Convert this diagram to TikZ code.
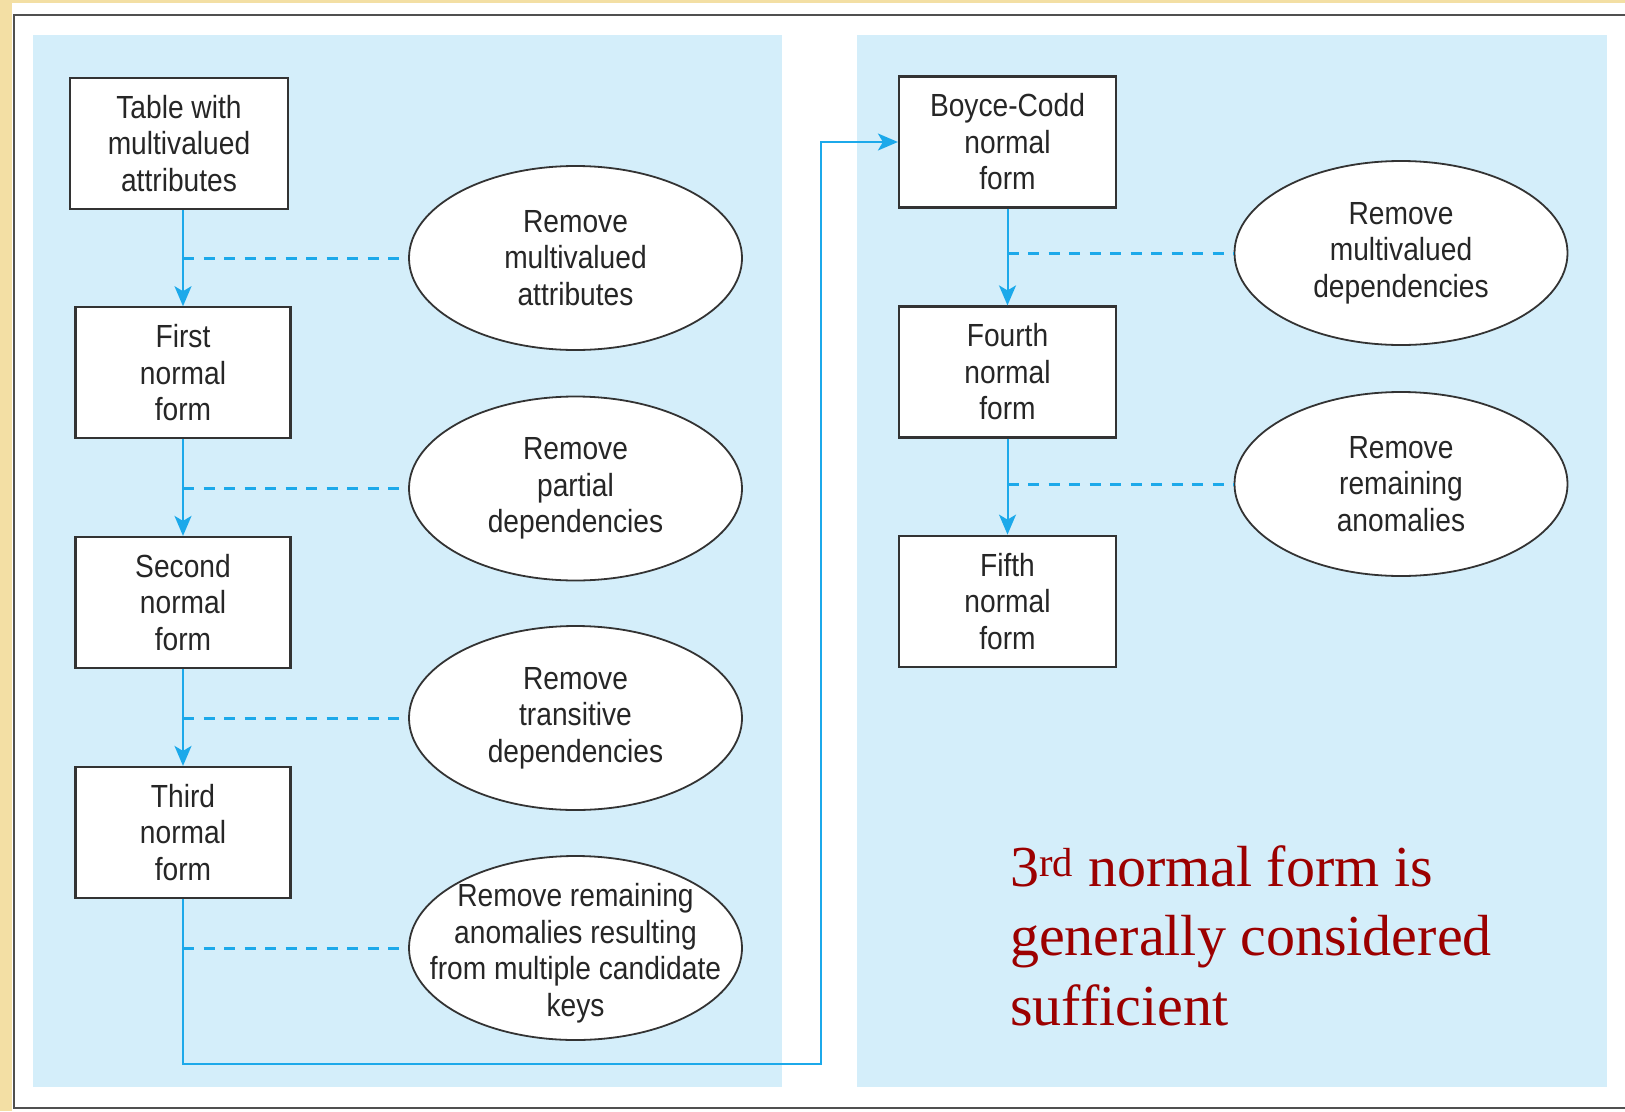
\documentclass[tikz,border=0pt]{standalone}
\usepackage{fontspec}
\setmainfont{Liberation Serif}
\newfontfamily\labelfont[FakeStretch=0.88]{Liberation Sans}
\usetikzlibrary{arrows.meta,shapes.geometric}
\definecolor{panelblue}{HTML}{D4EEFA}
\definecolor{flowblue}{HTML}{1CA9EA}
\definecolor{edgegray}{HTML}{333333}
\definecolor{framegray}{HTML}{505050}
\definecolor{slideyellow}{HTML}{F3DFA4}
\definecolor{notered}{HTML}{9C0000}
\definecolor{inktext}{HTML}{262626}

\begin{document}
\begin{tikzpicture}[x=1pt,y=-1pt,
  formbox/.style={draw=edgegray, line width=2.2pt, fill=white,
    minimum width=215pt, minimum height=131pt, inner sep=0pt,
    align=center, text=inktext, font=\labelfont\fontsize{32}{36.5}\selectfont},
  stepoval/.style={ellipse, draw=edgegray, line width=1.8pt, fill=white,
    minimum width=333pt, minimum height=184pt, inner sep=0pt},
  ovaltext/.style={inner sep=0pt, align=center, text=inktext,
    font=\labelfont\fontsize{32}{36.5}\selectfont},
  flow/.style={draw=flowblue, line width=2pt,
    -{Stealth[length=20pt,width=17pt,inset=5pt]}},
  link/.style={draw=flowblue, line width=3pt, dash pattern=on 11pt off 9.5pt},
]
\useasboundingbox (0,0) rectangle (1625,1111);

% slide background and frame
\fill[slideyellow] (0,0) rectangle (1625,1111);
\fill[white] (12,3) rectangle (1625,1111);
\draw[framegray, line width=2.5pt] (1625,15) -- (14,15) -- (14,1108) -- (1625,1108);

% two shaded panels
\fill[panelblue] (33,35) rectangle (782,1087);
\fill[panelblue] (857,35) rectangle (1607,1087);

% left column: forms
\node[formbox, minimum width=218pt] (t0) at (179,143.5) {Table with\\multivalued\\attributes};
\node[formbox] (f1) at (183,372.8) {First\\normal\\form};
\node[formbox] (f2) at (183,602.5) {Second\\normal\\form};
\node[formbox] (f3) at (183,832.5) {Third\\normal\\form};

% left column: steps
\node[stepoval] (e1) at (575.5,258) {};
\node[ovaltext] at (e1) {Remove\\multivalued\\attributes};
\node[stepoval] (e2) at (575.5,488.5) {};
\node[ovaltext] at (e2) {Remove\\partial\\dependencies};
\node[stepoval] (e3) at (575.5,718) {};
\node[ovaltext] at (e3) {Remove\\transitive\\dependencies};
\node[stepoval] (e4) at (575.5,948) {};
\node[ovaltext] at ([yshift=-5pt]e4.center) {Remove remaining\\anomalies resulting\\from multiple candidate\\keys};

% right column: forms
\node[formbox, minimum width=217pt] (bc) at (1007.5,142) {Boyce-Codd\\normal\\form};
\node[formbox, minimum width=217pt] (f4) at (1007.5,372) {Fourth\\normal\\form};
\node[formbox, minimum width=217pt] (f5) at (1007.5,601.2) {Fifth\\normal\\form};

% right column: steps
\node[stepoval] (r1) at (1401,253) {};
\node[ovaltext] at (r1) {Remove\\multivalued\\dependencies};
\node[stepoval] (r2) at (1401,484) {};
\node[ovaltext] at (r2) {Remove\\remaining\\anomalies};

% arrows between forms
\draw[flow] (f1.north |- t0.south) -- (f1.north);
\draw[flow] (f1.south) -- (f2.north);
\draw[flow] (f2.south) -- (f3.north);
\draw[flow] (bc.south) -- (f4.north);
\draw[flow] (f4.south) -- (f5.north);

% hand-over from third normal form to BCNF
\coordinate (c1) at (821,1064);
\coordinate (c2) at (821,142);
\draw[flow] (f3.south) |- (c1) -- (c2) -- (bc.west);

% dashed ties from the flow line to each step
\draw[link] (e1.west -| f1.center) -- (e1.west);
\draw[link] (e2.west -| f1.center) -- (e2.west);
\draw[link] (e3.west -| f1.center) -- (e3.west);
\draw[link] (e4.west -| f1.center) -- (e4.west);
\draw[link] (r1.west -| bc.center) -- (r1.west);
\draw[link] (r2.west -| bc.center) -- (r2.west);

% remark (anchored on the baseline of its last line)
\node[anchor=base west, align=left, inner sep=0pt, text=notered,
  font=\fontsize{58}{69.5}\selectfont] (note) at (1010,1025)
  {3\textsuperscript{rd} normal form is\\generally considered\\sufficient};
\end{tikzpicture}
\end{document}
